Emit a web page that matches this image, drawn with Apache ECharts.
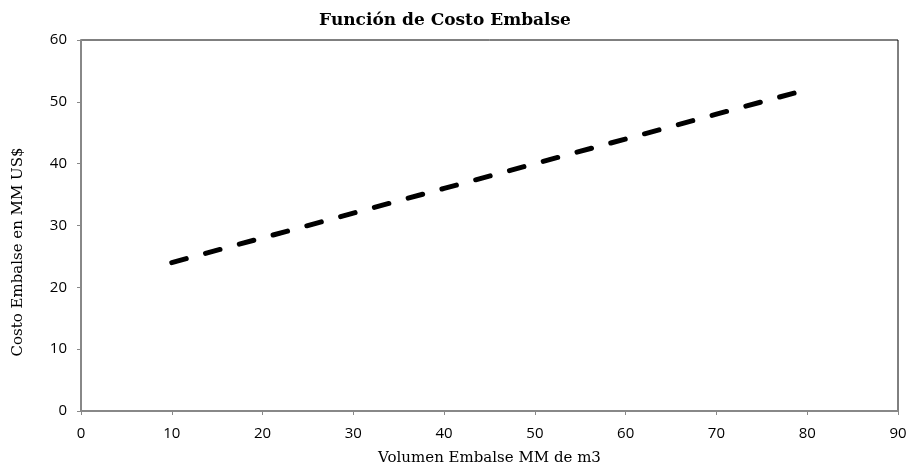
<!DOCTYPE html>
<html><head><meta charset="utf-8">
<script src="https://cdn.jsdelivr.net/npm/echarts@6/dist/echarts.min.js"></script>
<style>html,body{margin:0;padding:0;background:#fff}#c{width:910px;height:471px}</style>
</head><body><div id="c"></div>
<script>
const volumen = [10, 20, 30, 40, 50, 60, 70, 79];
const costo = [24, 28, 32, 36, 40, 44, 48, 51.6];
const xTicks = [0, 10, 20, 30, 40, 50, 60, 70, 80, 90];
const yTicks = [0, 10, 20, 30, 40, 50, 60];
const titleText = 'Función de Costo Embalse';
const xName = 'Volumen Embalse MM de m3';
const yName = 'Costo Embalse en MM US$';

const chart = echarts.init(document.getElementById('c'));
chart.setOption({
  animation: false,
  backgroundColor: '#fff',
  title: {
    text: titleText,
    left: 440, top: 7, textAlign: 'center',
    textStyle: { fontFamily: 'DejaVu Serif', fontWeight: 'bold', fontSize: 17, color: '#000' }
  },
  graphic: [{
    type: 'text',
    x: 18, y: 252, rotation: Math.PI / 2,
    style: {
      text: yName, fill: '#000', font: '15px "DejaVu Serif"',
      align: 'center', verticalAlign: 'middle'
    }
  }],
  grid: { left: 81, right: 12, top: 40, bottom: 60, show: true, borderColor: '#000', borderWidth: 1 },
  xAxis: {
    type: 'value', min: 0, max: 90, interval: 10,
    name: xName, nameLocation: 'middle', nameGap: 40,
    nameTextStyle: { fontFamily: 'DejaVu Serif', fontSize: 15, color: '#000' },
    axisLine: { show: true, lineStyle: { color: '#888', width: 2 } },
    axisTick: { show: true, length: 4, lineStyle: { color: '#888' } },
    axisLabel: { fontFamily: 'Open Sans', fontSize: 15, color: '#000', margin: 15,
      formatter: v => xTicks.includes(v) ? String(v) : '' },
    splitLine: { show: false }
  },
  yAxis: {
    type: 'value', min: 0, max: 60, interval: 10,
    axisLine: { show: true, lineStyle: { color: '#888', width: 2 } },
    axisTick: { show: true, length: 4, lineStyle: { color: '#888' } },
    axisLabel: { fontFamily: 'Open Sans', fontSize: 15, color: '#000', margin: 14,
      formatter: v => yTicks.includes(v) ? String(v) : '' },
    splitLine: { show: false }
  },
  series: [{
    type: 'line',
    data: volumen.map((v, i) => [v, costo[i]]),
    showSymbol: false,
    lineStyle: { color: '#000', width: 5, type: [15, 20], cap: 'round' }
  }]
});
</script></body></html>
